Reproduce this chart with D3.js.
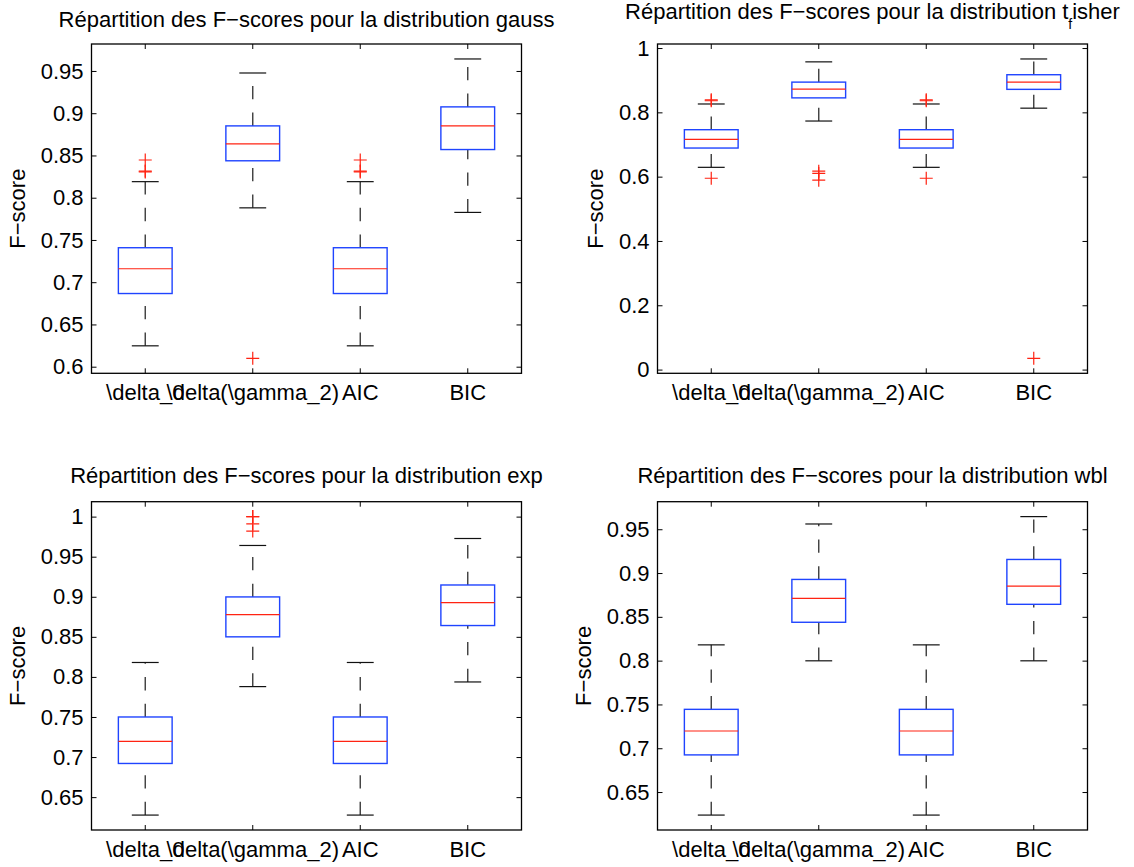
<!DOCTYPE html>
<html>
<head>
<meta charset="utf-8">
<script src="https://cdn.jsdelivr.net/npm/d3@7"></script>
<style>
  body { margin: 0; background: #fff; }
  svg { display: block; font-family: "Liberation Sans", Arial, Helvetica, sans-serif; }
</style>
</head>
<body>
<svg id="fig" width="1134" height="867"></svg>
<script>
// Method labels (drawn literally, as in the source figure)
const categories = ["\\delta_0", "\\delta(\\gamma_2)", "AIC", "BIC"];

// --- gauss ---
const gaussLow      = [0.6247, 0.788, 0.6247, 0.7826];
const gaussQ1       = [0.6866, 0.8437, 0.6866, 0.857];
const gaussMedian   = [0.7159, 0.8638, 0.7159, 0.885];
const gaussQ3       = [0.7408, 0.885, 0.7408, 0.9075];
const gaussHigh     = [0.819, 0.9476, 0.819, 0.9642];
const gaussOutliers = [[0.8305, 0.8315, 0.8446], [0.6099], [0.8305, 0.8315, 0.8446], []];
const gaussTicks    = [0.6, 0.65, 0.7, 0.75, 0.8, 0.85, 0.9, 0.95];

// --- t_fisher ---
const fisherLow      = [0.629, 0.773, 0.629, 0.813];
const fisherQ1       = [0.689, 0.845, 0.689, 0.8715];
const fisherMedian   = [0.716, 0.8725, 0.716, 0.894];
const fisherQ3       = [0.746, 0.894, 0.746, 0.917];
const fisherHigh     = [0.826, 0.957, 0.826, 0.966];
const fisherOutliers = [[0.595, 0.836, 0.839], [0.589, 0.61, 0.617], [0.595, 0.836, 0.839], [0.035]];
const fisherTicks    = [0, 0.2, 0.4, 0.6, 0.8, 1];

// --- exp ---
const expLow      = [0.6276, 0.7879, 0.6276, 0.7937];
const expQ1       = [0.692, 0.85, 0.692, 0.8641];
const expMedian   = [0.7195, 0.8778, 0.7195, 0.8927];
const expQ3       = [0.75, 0.8998, 0.75, 0.9147];
const expHigh     = [0.818, 0.964, 0.818, 0.9727];
const expOutliers = [[], [0.982, 0.991, 1.0, 1.0], [], []];
const expTicks    = [0.65, 0.7, 0.75, 0.8, 0.85, 0.9, 0.95, 1];

// --- wbl ---
const wblLow      = [0.6237, 0.7998, 0.6237, 0.7998];
const wblQ1       = [0.6924, 0.8438, 0.6924, 0.8643];
const wblMedian   = [0.7197, 0.8711, 0.7197, 0.8851];
const wblQ3       = [0.7444, 0.8927, 0.7444, 0.9155];
const wblHigh     = [0.818, 0.956, 0.818, 0.9644];
const wblOutliers = [[], [], [], []];
const wblTicks    = [0.65, 0.7, 0.75, 0.8, 0.85, 0.9, 0.95];

const titles = [
  "Répartition des F\u2212scores pour la distribution gauss",
  "Répartition des F\u2212scores pour la distribution t_fisher",
  "Répartition des F\u2212scores pour la distribution exp",
  "Répartition des F\u2212scores pour la distribution wbl"
];
const yLabel = "F\u2212score";

// Subplot frames
const W = 430;
const panels = [
  { title: titles[0], low: gaussLow, q1: gaussQ1, med: gaussMedian, q3: gaussQ3, high: gaussHigh, out: gaussOutliers, ticks: gaussTicks,
    left: 91.5, top: 44, height: 329.3, titleGap: 17.3 },
  { title: titles[1], low: fisherLow, q1: fisherQ1, med: fisherMedian, q3: fisherQ3, high: fisherHigh, out: fisherOutliers, ticks: fisherTicks,
    left: 657.5, top: 44, height: 329.3, titleGap: 25 },
  { title: titles[2], low: expLow, q1: expQ1, med: expMedian, q3: expQ3, high: expHigh, out: expOutliers, ticks: expTicks,
    left: 91.5, top: 501.7, height: 328.3, titleGap: 18.5 },
  { title: titles[3], low: wblLow, q1: wblQ1, med: wblMedian, q3: wblQ3, high: wblHigh, out: wblOutliers, ticks: wblTicks,
    left: 657.5, top: 501.7, height: 328.3, titleGap: 18.5 }
];

const FONT = 22;
const BLUE = "#1f44ff", RED = "#ff2312", WHISK = "#3c3c3c";
const fmt = v => String(+v.toFixed(2));

const svg = d3.select("#fig");

panels.forEach(p => {
  const H = p.height;
  const g = svg.append("g").attr("transform", `translate(${p.left},${p.top})`);

  // y limits: data extent with 5% padding
  const vals = [...p.low, ...p.high, ...p.out.flat()];
  const lo = d3.min(vals), hi = d3.max(vals), pad = (hi - lo) * 0.05;
  const y = d3.scaleLinear().domain([lo - pad, hi + pad]).range([H, 0]);
  const x = d3.scaleBand().domain(categories).range([0, W]).padding(0);
  const bw = x.bandwidth();
  const cx = c => x(c) + bw / 2;

  const styleAxis = a => {
    a.select(".domain").remove();
    a.attr("font-size", FONT).attr("font-family", null);
    a.selectAll("line").attr("stroke", "#000").attr("stroke-width", 1);
    a.selectAll("text").attr("fill", "#000");
  };

  const yAxisG = g.append("g")
    .call(d3.axisLeft(y).tickValues(p.ticks).tickFormat(fmt).tickSizeInner(-5).tickSizeOuter(0).tickPadding(8))
    .call(styleAxis);
  g.append("g").attr("transform", `translate(${W},0)`)
    .call(d3.axisRight(y).tickValues(p.ticks).tickFormat("").tickSizeInner(-5).tickSizeOuter(0))
    .call(styleAxis);
  g.append("g").attr("transform", `translate(0,${H})`)
    .call(d3.axisBottom(x).tickSizeInner(-5).tickSizeOuter(0).tickPadding(11))
    .call(styleAxis);
  g.append("g")
    .call(d3.axisTop(x).tickFormat("").tickSizeInner(-5).tickSizeOuter(0))
    .call(styleAxis);

  // frame
  g.append("rect").attr("x", 0).attr("y", 0).attr("width", W).attr("height", H)
    .attr("fill", "none").attr("stroke", "#000").attr("stroke-width", 1.3);

  // boxes
  const items = categories.map((c, i) => ({
    c, low: p.low[i], q1: p.q1[i], med: p.med[i], q3: p.q3[i], high: p.high[i], out: p.out[i]
  }));
  const bg = g.append("g");

  // whiskers, drawn bottom-up so the dash pattern starts at the lower end
  bg.selectAll(".wu").data(items).join("line")
    .attr("x1", d => cx(d.c)).attr("x2", d => cx(d.c))
    .attr("y1", d => y(d.q3)).attr("y2", d => y(d.high))
    .attr("stroke", WHISK).attr("stroke-width", 1.4).attr("stroke-dasharray", "13.3 13.3");
  bg.selectAll(".wl").data(items).join("line")
    .attr("x1", d => cx(d.c)).attr("x2", d => cx(d.c))
    .attr("y1", d => y(d.low)).attr("y2", d => y(d.q1))
    .attr("stroke", WHISK).attr("stroke-width", 1.4).attr("stroke-dasharray", "13.3 13.3");

  // whisker caps
  ["low", "high"].forEach(k => {
    bg.selectAll(".cap-" + k).data(items).join("line")
      .attr("x1", d => cx(d.c) - bw / 8).attr("x2", d => cx(d.c) + bw / 8)
      .attr("y1", d => y(d[k])).attr("y2", d => y(d[k]))
      .attr("stroke", "#111").attr("stroke-width", 1.2);
  });

  // interquartile box
  bg.selectAll(".box").data(items).join("rect")
    .attr("x", d => cx(d.c) - bw / 4).attr("width", bw / 2)
    .attr("y", d => y(d.q3)).attr("height", d => y(d.q1) - y(d.q3))
    .attr("fill", "none").attr("stroke", BLUE).attr("stroke-width", 1.4);

  // median
  bg.selectAll(".med").data(items).join("line")
    .attr("x1", d => cx(d.c) - bw / 4).attr("x2", d => cx(d.c) + bw / 4)
    .attr("y1", d => y(d.med)).attr("y2", d => y(d.med))
    .attr("stroke", RED).attr("stroke-width", 1.2);

  // outliers as '+' markers
  const outs = items.flatMap(d => d.out.map(v => ({ c: d.c, v })));
  bg.selectAll(".out").data(outs).join("path")
    .attr("d", d => {
      const px = cx(d.c), py = y(d.v), r = 6.5;
      return `M${px - r},${py}H${px + r}M${px},${py - r}V${py + r}`;
    })
    .attr("fill", "none").attr("stroke", RED).attr("stroke-width", 1.2);

  // y label, placed left of the tick labels
  const bb = yAxisG.node().getBBox();
  g.append("text")
    .attr("transform", `translate(${bb.x - 16},${H / 2}) rotate(-90)`)
    .attr("text-anchor", "middle").attr("font-size", FONT).attr("fill", "#000")
    .text(yLabel);

  // title, with TeX-style single-character subscript
  const t = g.append("text").attr("x", W / 2).attr("y", -p.titleGap)
    .attr("text-anchor", "middle").attr("font-size", FONT).attr("fill", "#000");
  const us = p.title.indexOf("_");
  if (us < 0) {
    t.text(p.title);
  } else {
    t.append("tspan").text(p.title.slice(0, us));
    t.append("tspan").attr("font-size", 14).attr("dy", 10).text(p.title.charAt(us + 1));
    t.append("tspan").attr("dy", -10).text(p.title.slice(us + 2));
  }
});
</script>
</body>
</html>
